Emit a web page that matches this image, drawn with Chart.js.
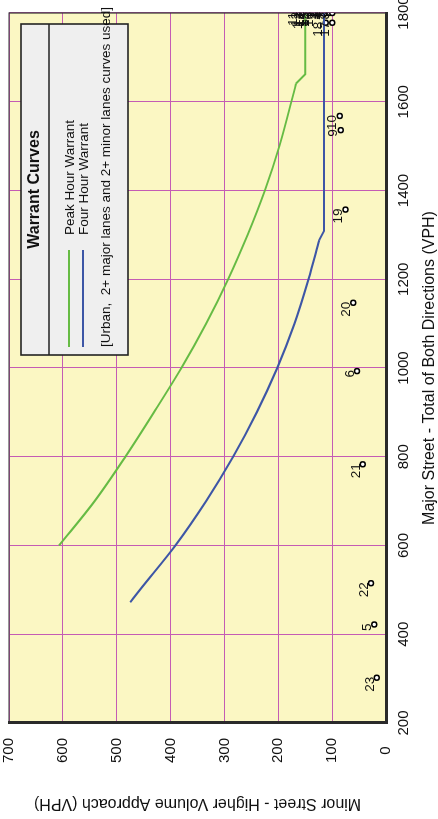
<!DOCTYPE html>
<html>
<head>
<meta charset="utf-8">
<title>Warrant Curves</title>
<script src="https://cdn.jsdelivr.net/npm/chart.js@4.4.1/dist/chart.umd.min.js"></script>
<style>
  html, body { margin: 0; padding: 0; background: #fff; overflow: hidden; }
  /* chart is drawn landscape, then turned a quarter left */
  #wrap {
    position: absolute; left: 0; top: 0;
    width: 819px; height: 438px;
    transform-origin: 0 0;
    transform: translateY(819px) rotate(-90deg);
  }
</style>
</head>
<body>
<div id="wrap"><canvas id="warrantChart" width="819" height="438"></canvas></div>
<script>
// axis ticks
const majorTicks = [200, 400, 600, 800, 1000, 1200, 1400, 1600, 1800];
const minorTicks = [0, 100, 200, 300, 400, 500, 600, 700];

// Peak Hour Warrant curve (major street vph -> minor street vph)
const peakMajor = [600, 700, 800, 900, 1000, 1100, 1200, 1300, 1400, 1500, 1641, 1662, 1800];
const peakMinor = [607, 541, 484, 431, 380, 334, 293, 257, 225, 198, 167, 150, 150];
const peakBend = 10; // index where the curve turns into straight pieces

// Four Hour Warrant curve
const fourMajor = [472, 500, 600, 700, 800, 900, 1000, 1100, 1200, 1288, 1309, 1800];
const fourMinor = [475, 457, 391, 334, 284, 240, 202, 170, 144, 124, 115, 115];
const fourBend = 9;

// counted sites
const siteIds   = ['23', '5', '22', '21', '6', '20', '19', '9', '10',
                   '11', '12', '13', '14', '15', '16', '2', '3', '4', '7', '8',
                   '1', '18', '17'];
const siteMajor = [302, 422, 515, 783, 993, 1147, 1357, 1536, 1568,
                   1800, 1800, 1800, 1800, 1800, 1800, 1800, 1800, 1800, 1800, 1800,
                   1778, 1778, 1778];
const siteMinor = [17, 22, 28, 43, 54, 61, 75, 84, 86,
                   160, 154, 148, 142, 136, 130, 124, 118, 112, 106, 100,
                   150, 112, 100];

const noteText = '[Urban,  2+ major lanes and 2+ minor lanes curves used]';
const FONT = '"Liberation Sans", Arial, sans-serif';
const GREEN = '#66bb44';
const BLUE = '#3d56a6';

function toXY(xs, ys) {
  return xs.map((x, i) => ({ x: x, y: ys[i] }));
}

function curvePart(label, pts, color, smooth) {
  return {
    label: label,
    data: pts,
    showLine: true,
    borderColor: color,
    borderWidth: 2,
    pointRadius: 0,
    tension: 0,
    cubicInterpolationMode: smooth ? 'monotone' : 'default'
  };
}

const peakPts = toXY(peakMajor, peakMinor);
const fourPts = toXY(fourMajor, fourMinor);

// yellow plot area
const plotBackground = {
  id: 'plotBackground',
  beforeDraw(chart) {
    const { ctx, chartArea: a } = chart;
    ctx.save();
    ctx.fillStyle = '#fbf7c3';
    ctx.fillRect(a.left, a.top, a.right - a.left, a.bottom - a.top);
    ctx.restore();
  }
};

// thin frame on the two sides without an axis
const plotFrame = {
  id: 'plotFrame',
  beforeDatasetsDraw(chart) {
    const { ctx, chartArea: a } = chart;
    ctx.save();
    ctx.strokeStyle = '#333';
    ctx.lineWidth = 1.2;
    ctx.beginPath();
    ctx.moveTo(a.left, a.top);
    ctx.lineTo(a.right, a.top);
    ctx.lineTo(a.right, a.bottom);
    ctx.stroke();
    ctx.restore();
  }
};

// site number next to each point
const siteLabels = {
  id: 'siteLabels',
  afterDatasetsDraw(chart) {
    const ctx = chart.ctx;
    const meta = chart.getDatasetMeta(4);
    ctx.save();
    ctx.fillStyle = '#111';
    ctx.font = '13.5px ' + FONT;
    ctx.textAlign = 'right';
    ctx.textBaseline = 'middle';
    meta.data.forEach((pt, i) => {
      ctx.fillText(siteIds[i], pt.x + 1, pt.y - 7);
    });
    ctx.restore();
  }
};

// boxed legend in the upper right
const warrantLegend = {
  id: 'warrantLegend',
  afterDraw(chart) {
    const { ctx, chartArea: a } = chart;
    const entries = [
      { text: 'Peak Hour Warrant', color: GREEN },
      { text: 'Four Hour Warrant', color: BLUE }
    ];
    const w = 331, h = 107;
    const x0 = a.right - 342, y0 = a.top + 12;
    ctx.save();
    ctx.fillStyle = '#efefef';
    ctx.fillRect(x0, y0, w, h);
    ctx.strokeStyle = '#222';
    ctx.lineWidth = 1.6;
    ctx.strokeRect(x0, y0, w, h);
    ctx.beginPath();
    ctx.moveTo(x0, y0 + 28);
    ctx.lineTo(x0 + w, y0 + 28);
    ctx.stroke();

    ctx.fillStyle = '#111';
    ctx.textBaseline = 'middle';
    ctx.textAlign = 'center';
    ctx.font = 'bold 16px ' + FONT;
    ctx.fillText('Warrant Curves', x0 + w / 2, y0 + 14);

    ctx.textAlign = 'left';
    ctx.font = '13.5px ' + FONT;
    entries.forEach((e, k) => {
      const yy = y0 + 48 + k * 14;
      ctx.strokeStyle = e.color;
      ctx.lineWidth = 2;
      ctx.beginPath();
      ctx.moveTo(x0 + 8, yy);
      ctx.lineTo(x0 + 105, yy);
      ctx.stroke();
      ctx.fillText(e.text, x0 + 120, yy + 1.5);
    });
    ctx.fillText(noteText, x0 + 8, y0 + 85);
    ctx.restore();
  }
};

new Chart(document.getElementById('warrantChart'), {
  type: 'scatter',
  data: {
    datasets: [
      curvePart('Peak Hour Warrant', peakPts.slice(0, peakBend + 1), GREEN, true),
      curvePart('Peak Hour Warrant', peakPts.slice(peakBend), GREEN, false),
      curvePart('Four Hour Warrant', fourPts.slice(0, fourBend + 1), BLUE, true),
      curvePart('Four Hour Warrant', fourPts.slice(fourBend), BLUE, false),
      {
        label: 'Sites',
        data: toXY(siteMajor, siteMinor),
        showLine: false,
        pointRadius: 2.5,
        pointBorderWidth: 1.5,
        pointBorderColor: '#000',
        pointBackgroundColor: '#fff'
      }
    ]
  },
  options: {
    responsive: false,
    animation: false,
    devicePixelRatio: 1,
    layout: { autoPadding: false, padding: { top: 9, right: 13, left: 0, bottom: 0 } },
    plugins: { legend: { display: false }, tooltip: { enabled: false } },
    scales: {
      x: {
        type: 'linear',
        min: 200,
        max: 1800,
        afterFit(scale) {
          scale.height = 52;
          scale.paddingLeft = 0;
          scale.paddingRight = 0;
        },
        afterBuildTicks(scale) { scale.ticks = majorTicks.map(v => ({ value: v })); },
        grid: { color: '#c45cb4', lineWidth: 1, drawTicks: false },
        border: { display: true, width: 3, color: '#2a2a2a' },
        ticks: {
          color: '#111', font: { family: FONT, size: 15 }, padding: 9, maxRotation: 0,
          callback: (v) => String(v)
        },
        title: {
          display: true,
          text: 'Major Street - Total of Both Directions (VPH)',
          color: '#111',
          font: { family: FONT, size: 16, lineHeight: 1 },
          padding: { top: 0, bottom: 0 }
        }
      },
      y: {
        type: 'linear',
        min: 0,
        max: 700,
        afterFit(scale) {
          scale.width = 96;
          scale.paddingTop = 0;
          scale.paddingBottom = 0;
        },
        afterBuildTicks(scale) { scale.ticks = minorTicks.map(v => ({ value: v })); },
        grid: { color: '#c45cb4', lineWidth: 1, drawTicks: false },
        border: { display: true, width: 3, color: '#2a2a2a' },
        ticks: {
          color: '#111', font: { family: FONT, size: 15 }, padding: 15, crossAlign: 'center',
          callback: (v) => String(v)
        },
        title: {
          display: true,
          text: 'Minor Street - Higher Volume Approach (VPH)',
          color: '#111',
          font: { family: FONT, size: 16, lineHeight: 1.2 },
          padding: { top: 6, bottom: 0 }
        }
      }
    }
  },
  plugins: [plotBackground, plotFrame, siteLabels, warrantLegend]
});
</script>
</body>
</html>
